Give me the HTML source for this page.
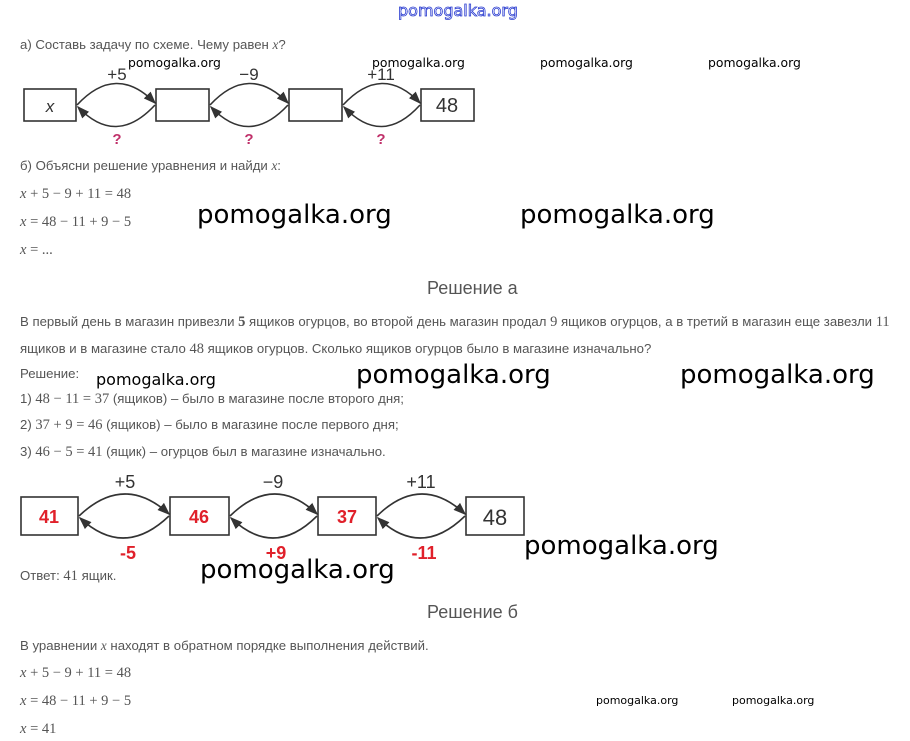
<!DOCTYPE html>
<html><head><meta charset="utf-8"><style>
body{margin:0;width:910px;height:741px;background:#fff;position:relative;overflow:hidden;font-family:"Liberation Sans",sans-serif;}
.t{position:absolute;font-size:13.2px;color:#555;white-space:nowrap;}
.m{position:absolute;font-family:"Liberation Serif",serif;font-size:14.5px;color:#555;white-space:nowrap;}
.w{position:absolute;color:#000;white-space:nowrap;font-family:"DejaVu Sans","Liberation Sans",sans-serif;}
.ws{font-size:12.4px;}
.wl{font-size:26px;}
.h{position:absolute;font-size:18px;color:#555;white-space:nowrap;}
</style></head><body>
<div class="w" style="left:398px;top:1px;font-size:16px;color:#fff;-webkit-text-stroke:0.8px #2a3cd0;">pomogalka.org</div>

<div class="t" style="left:20px;top:37px;">а) Составь задачу по схеме. Чему равен <i style="font-family:'Liberation Serif'">x</i>?</div>
<svg style="position:absolute;left:0;top:55px" width="500" height="100">
<defs><marker id="a" markerWidth="8" markerHeight="8" refX="7" refY="4" orient="auto"><path d="M0,1 L8,4 L0,7 z" fill="#333"/></marker></defs>
<g fill="#fff" stroke="#333" stroke-width="1.6">
<rect x="24" y="34" width="52" height="32"/><rect x="156" y="34" width="53" height="32"/><rect x="289" y="34" width="53" height="32"/><rect x="421" y="34" width="53" height="32"/>
</g>
<g fill="none" stroke="#333" stroke-width="1.6">
<path d="M77,50 Q116,8 155,48" marker-end="url(#a)"/><path d="M155,50 Q116,92 78,52" marker-end="url(#a)"/>
<path d="M210,50 Q249,8 288,48" marker-end="url(#a)"/><path d="M288,50 Q249,92 211,52" marker-end="url(#a)"/>
<path d="M343,50 Q382,8 420,48" marker-end="url(#a)"/><path d="M420,50 Q382,92 344,52" marker-end="url(#a)"/>
</g>
<g font-family="Liberation Sans" font-size="17" fill="#333" text-anchor="middle">
<text x="50" y="57" font-style="italic">x</text><text x="447" y="57" font-size="20">48</text>
<text x="117" y="25">+5</text><text x="249" y="25">−9</text><text x="381" y="25">+11</text>
</g>
<g font-family="Liberation Sans" font-size="15" font-weight="bold" fill="#c0306a" text-anchor="middle">
<text x="117" y="89">?</text><text x="249" y="89">?</text><text x="381" y="89">?</text></g>
</svg>
<div class="w ws" style="left:128px;top:55px;">pomogalka.org</div>
<div class="w ws" style="left:372px;top:55px;">pomogalka.org</div>
<div class="w ws" style="left:540px;top:55px;">pomogalka.org</div>
<div class="w ws" style="left:708px;top:55px;">pomogalka.org</div>

<div class="t" style="left:20px;top:158px;">б) Объясни решение уравнения и найди <i style="font-family:'Liberation Serif'">x</i>:</div>
<div class="m" style="left:20px;top:186px;"><i>x</i> + 5 − 9 + 11 = 48</div>
<div class="m" style="left:20px;top:214px;"><i>x</i> = 48 − 11 + 9 − 5</div>
<div class="m" style="left:20px;top:242px;"><i>x</i> = ...</div>
<div class="w wl" style="left:197px;top:200px;">pomogalka.org</div>
<div class="w wl" style="left:520px;top:200px;">pomogalka.org</div>

<div class="h" style="left:427px;top:278px;">Решение а</div>
<div class="t" style="left:20px;top:314px;">В первый день в магазин привезли <b class="m" style="position:static">5</b> ящиков огурцов, во второй день магазин продал <span class="m" style="position:static">9</span> ящиков огурцов, а в третий в магазин еще завезли <span class="m" style="position:static">11</span></div>
<div class="t" style="left:20px;top:341px;">ящиков и в магазине стало <span class="m" style="position:static">48</span> ящиков огурцов. Сколько ящиков огурцов было в магазине изначально?</div>
<div class="t" style="left:20px;top:366px;">Решение:</div>
<div class="t" style="left:20px;top:391px;">1) <span class="m" style="position:static">48 − 11 = 37</span> (ящиков) – было в магазине после второго дня;</div>
<div class="t" style="left:20px;top:417px;">2) <span class="m" style="position:static">37 + 9 = 46</span> (ящиков) – было в магазине после первого дня;</div>
<div class="t" style="left:20px;top:444px;">3) <span class="m" style="position:static">46 − 5 = 41</span> (ящик) – огурцов был в магазине изначально.</div>
<div class="w" style="left:96px;top:370px;font-size:16px;">pomogalka.org</div>
<div class="w wl" style="left:356px;top:360px;">pomogalka.org</div>
<div class="w wl" style="left:680px;top:360px;">pomogalka.org</div>

<svg style="position:absolute;left:0;top:465px" width="540" height="100">
<defs><marker id="b" markerWidth="8" markerHeight="8" refX="7" refY="4" orient="auto"><path d="M0,1 L8,4 L0,7 z" fill="#333"/></marker></defs>
<g fill="#fff" stroke="#333" stroke-width="1.6">
<rect x="21" y="32" width="57" height="38"/><rect x="170" y="32" width="59" height="38"/><rect x="318" y="32" width="58" height="38"/><rect x="466" y="32" width="58" height="38"/>
</g>
<g fill="none" stroke="#333" stroke-width="1.6">
<path d="M79,51 Q124,8 169,49" marker-end="url(#b)"/><path d="M169,51 Q124,94 80,53" marker-end="url(#b)"/>
<path d="M230,51 Q274,8 317,49" marker-end="url(#b)"/><path d="M317,51 Q274,94 231,53" marker-end="url(#b)"/>
<path d="M377,51 Q421,8 465,49" marker-end="url(#b)"/><path d="M465,51 Q421,94 378,53" marker-end="url(#b)"/>
</g>
<g font-family="Liberation Sans" font-size="18" fill="#333" text-anchor="middle">
<text x="125" y="23">+5</text><text x="273" y="23">−9</text><text x="421" y="23">+11</text>
<text x="495" y="60" font-size="22">48</text></g>
<g font-family="Liberation Sans" font-size="18" font-weight="bold" fill="#e0202a" text-anchor="middle">
<text x="49" y="58">41</text><text x="199" y="58">46</text><text x="347" y="58">37</text>
<text x="128" y="94">-5</text><text x="276" y="94">+9</text><text x="424" y="94">-11</text></g>
</svg>
<div class="w wl" style="left:524px;top:531px;">pomogalka.org</div>
<div class="w wl" style="left:200px;top:555px;">pomogalka.org</div>
<div class="t" style="left:20px;top:568px;">Ответ: <span class="m" style="position:static">41</span> ящик.</div>

<div class="h" style="left:427px;top:602px;">Решение б</div>
<div class="t" style="left:20px;top:638px;">В уравнении <i style="font-family:'Liberation Serif'">x</i> находят в обратном порядке выполнения действий.</div>
<div class="m" style="left:20px;top:665px;"><i>x</i> + 5 − 9 + 11 = 48</div>
<div class="m" style="left:20px;top:693px;"><i>x</i> = 48 − 11 + 9 − 5</div>
<div class="m" style="left:20px;top:721px;"><i>x</i> = 41</div>
<div class="w" style="left:596px;top:694px;font-size:11px;">pomogalka.org</div>
<div class="w" style="left:732px;top:694px;font-size:11px;">pomogalka.org</div>
</body></html>
